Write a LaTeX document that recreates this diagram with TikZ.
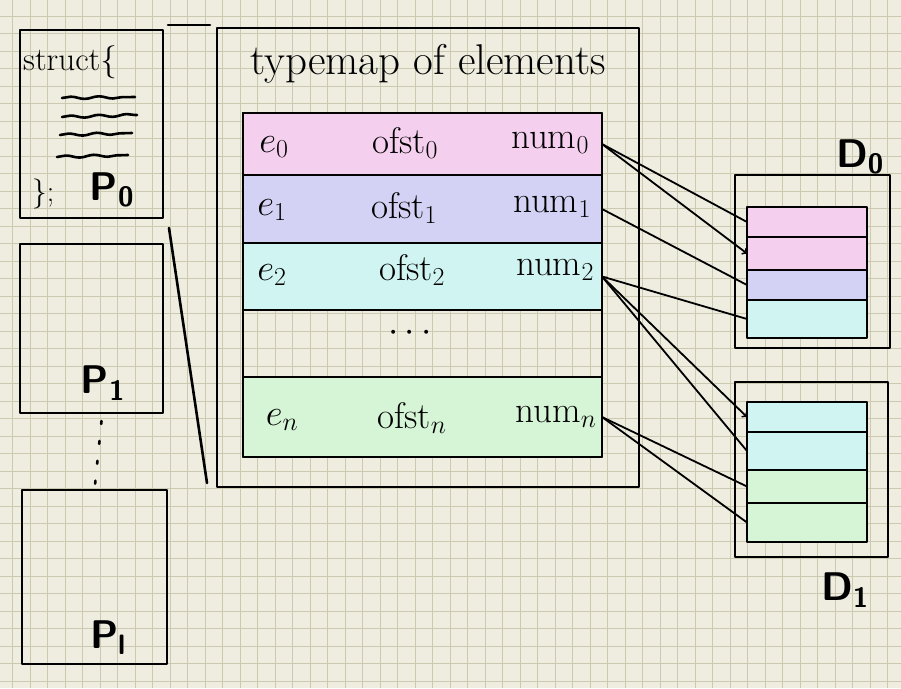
\RequirePackage{fix-cm}
\documentclass[tikz,border=0pt]{standalone}
\usetikzlibrary{arrows,positioning,decorations.pathmorphing}

\definecolor{paper}{RGB}{238,237,224}
\definecolor{gridc}{RGB}{203,201,176}
\definecolor{rpink}{RGB}{245,208,238}
\definecolor{rlav}{RGB}{212,210,244}
\definecolor{rcyan}{RGB}{208,244,242}
\definecolor{rgreen}{RGB}{214,244,214}

\begin{document}
\begin{tikzpicture}
[x=1pt,y=-1pt,
 ink/.style={line width=2.6pt,line cap=round,line join=round},
 box/.style={draw,ink,inner sep=0pt,outer sep=0pt},
 hand/.style={font=\fontsize{37}{40}\selectfont,inner sep=0pt},
 big/.style={font=\fontsize{40}{42}\selectfont\sffamily\bfseries,inner sep=0pt},
 wave/.style={ink,decorate,decoration={snake,amplitude=1.2pt,segment length=28pt}},
 link/.style={line width=1.8pt,line cap=round}]
% paper
\fill[paper] (0,0) rectangle (901,688);
\useasboundingbox (0,0) rectangle (901,688);
\foreach \gx in {12.5,30,...,901} \draw[gridc,line width=0.9pt] (\gx,0) -- (\gx,688);
\foreach \gy in {16,33.5,...,688} \draw[gridc,line width=0.9pt] (0,\gy) -- (901,\gy);
% processes
\node[box,minimum width=143,minimum height=188] (p0) at (91.5,124) {};
\node[box,minimum width=143,minimum height=169] (p1) at (91.5,328.5) {};
\node[box,minimum width=145,minimum height=174] (pl) at (94.5,577) {};
\node[hand,anchor=west,font=\fontsize{33}{36}\selectfont] (st) at (23,62) {struct\{};
\draw[wave] (62,98) -- (135,97);
\draw[wave] (62,117) -- (137,115);
\draw[wave] (60,135) -- (132,133);
\draw[wave] (57,157) -- (128,155);
\node[hand,font=\fontsize{30}{32}\selectfont] (cl) at (43,194) {\};};
\node[big] (lp0) at (112,190) {P\textsubscript{0}};
\node[big] (lp1) at (103,383) {P\textsubscript{1}};
\node[big] (lpl) at (108,638) {P\textsubscript{l}};
\draw[ink,dash pattern=on 3pt off 17pt] (p1.south) ++(10,8) coordinate (dt) -- (pl.north) ++(8,-8) coordinate (db);
% zoom lines
\coordinate (za) at (168,25);
\coordinate (zb) at (210,25);
\coordinate (zc) at (169,228);
\coordinate (zd) at (207,483);
\draw[ink] (za) -- (zb);
\draw[ink] (zc) -- (zd);
% typemap
\node[box,minimum width=422,minimum height=459] (tm) at (428,257.5) {};
\node[hand,font=\fontsize{43}{46}\selectfont] (title) at (428,64) {typemap of elements};
\node[box,fill=rpink,minimum width=359,minimum height=62] (row0) at (422.5,144) {};
\node[box,fill=rlav,minimum width=359,minimum height=68] (row1) at (422.5,209) {};
\node[box,fill=rcyan,minimum width=359,minimum height=67] (row2) at (422.5,276.5) {};
\node[box,fill=rgreen,minimum width=359,minimum height=80] (rown) at (422.5,417) {};
\node[box,minimum width=359,minimum height=344] (tab) at (422.5,285) {};
\node[hand] (e0) at (274,147) {$e_0$};
\node[hand] (o0) at (405,143) {ofst$_0$};
\node[hand] (n0) at (550,143) {num$_0$};
\node[hand] (e1) at (272,210) {$e_1$};
\node[hand] (o1) at (404,208) {ofst$_1$};
\node[hand] (n1) at (552,207) {num$_1$};
\node[hand] (e2) at (272,275) {$e_2$};
\node[hand] (o2) at (412,270) {ofst$_2$};
\node[hand] (n2) at (555,270) {num$_2$};
\node[hand] (dots) at (410,333) {$\cdots$};
\node[hand] (en) at (282,420) {$e_n$};
\node[hand] (on) at (412,418) {ofst$_n$};
\node[hand] (nn) at (556,417) {num$_n$};
% devices
\node[box,minimum width=155,minimum height=173] (d0) at (812.5,261.5) {};
\node[box,fill=rpink,minimum width=120,minimum height=30] (d0a) at (807,222) {};
\node[box,fill=rpink,minimum width=120,minimum height=33] (d0b) at (807,253.5) {};
\node[box,fill=rlav,minimum width=120,minimum height=30] (d0c) at (807,285) {};
\node[box,fill=rcyan,minimum width=120,minimum height=38] (d0d) at (807,319) {};
\node[box,minimum width=153,minimum height=175] (d1) at (811.5,469.5) {};
\node[box,fill=rcyan,minimum width=120,minimum height=30] (d1a) at (807,417) {};
\node[box,fill=rcyan,minimum width=120,minimum height=38] (d1b) at (807,451) {};
\node[box,fill=rgreen,minimum width=120,minimum height=33] (d1c) at (807,486.5) {};
\node[box,fill=rgreen,minimum width=120,minimum height=39] (d1d) at (807,522.5) {};
\node[big] (ld0) at (860,157) {D\textsubscript{0}};
\node[big] (ld1) at (845,590) {D\textsubscript{1}};
% mapping
\draw[link] (row0.east) -- (d0a.west);
\draw[link,->] (row0.east) -- (d0b.west);
\draw[link] (row1.east) -- (d0c.west);
\draw[link] (row2.east) -- (d0d.west);
\draw[link,->] (row2.east) -- (d1a.west);
\draw[link,->] (d1b.west) -- (row2.east);
\draw[link] (rown.east) -- (d1c.west);
\draw[link] (rown.east) -- (d1d.west);
\end{tikzpicture}
\end{document}
